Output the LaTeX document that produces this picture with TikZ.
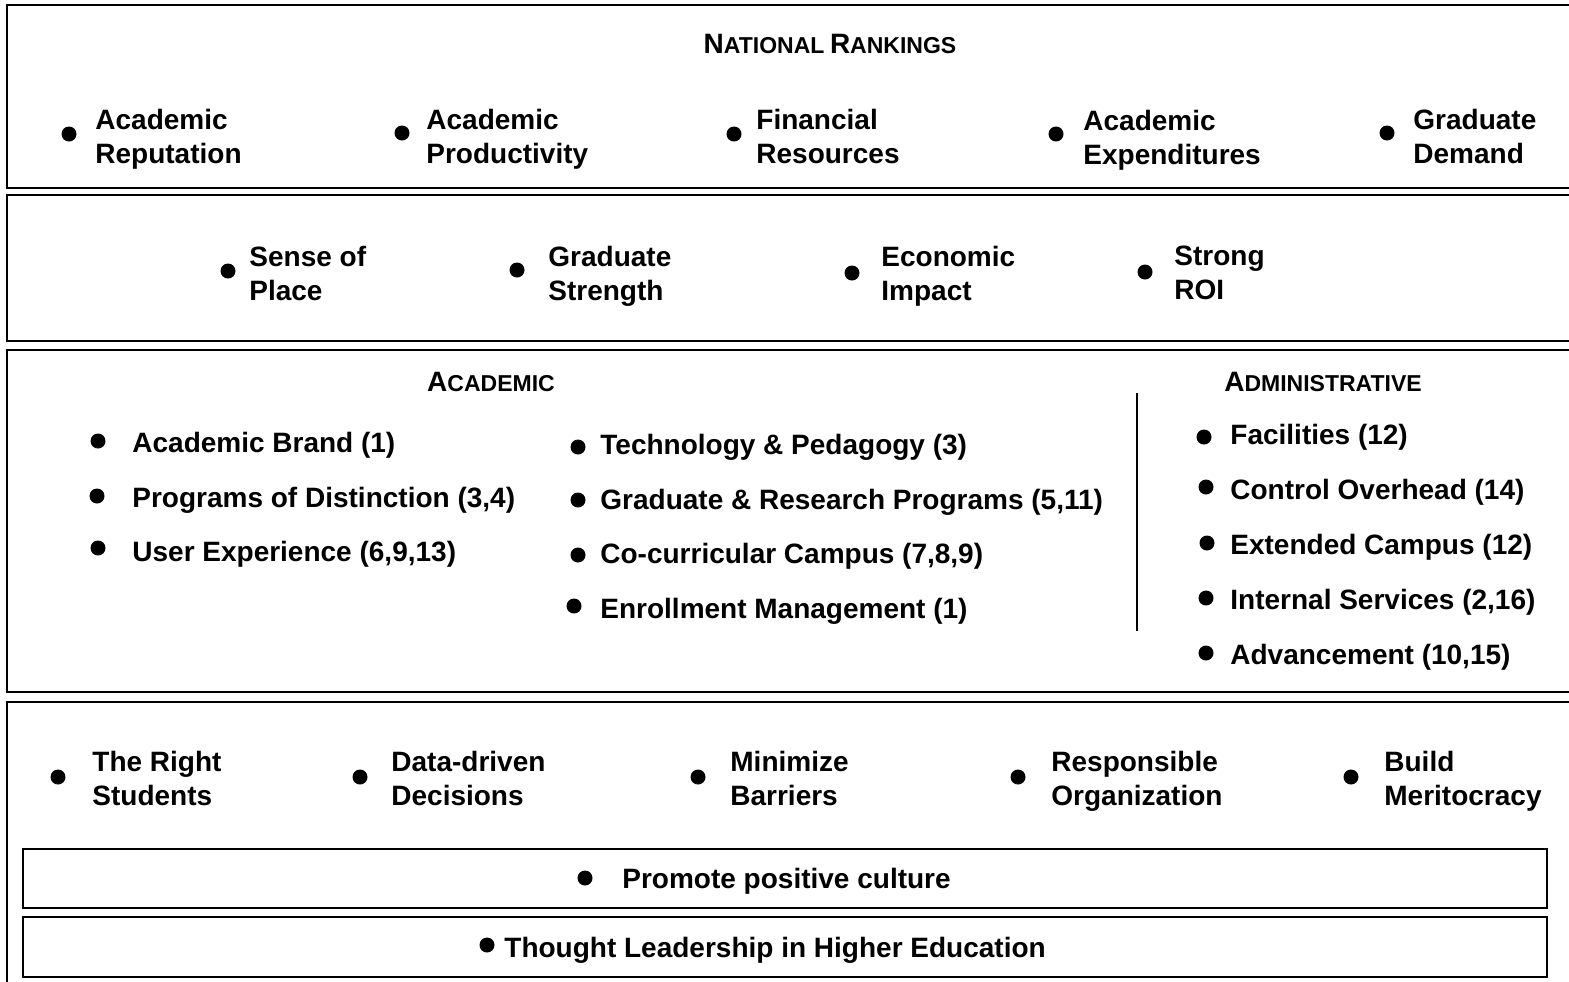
\documentclass[tikz,border=0pt]{standalone}
\usepackage{fontspec}
\setmainfont{Liberation Sans}
\usetikzlibrary{positioning}

% small caps made by hand (Liberation Sans has none)
\newcommand{\capsh}[2]{{\fontsize{14pt}{17pt}\selectfont #1}{\fontsize{11.5pt}{13pt}\selectfont #2}}

\begin{document}
\begin{tikzpicture}[
  x=0.5pt, y=-0.5pt,
  panel/.style={draw,line width=1pt},
  dot/.style={circle,fill,inner sep=0pt,minimum size=7.5pt},
  lbl/.style={anchor=west,align=left,inner sep=0pt,text depth=3pt,yshift=-1.5pt,
    font=\fontsize{14pt}{17pt}\selectfont\bfseries},
  head/.style={inner sep=0pt,font=\bfseries}
]
  \useasboundingbox (0,0) rectangle (1569,981);

  % Panels
  \draw[panel] (7,5) rectangle (1590,188);
  \draw[panel] (7,195) rectangle (1590,341);
  \draw[panel] (7,350) rectangle (1590,692);
  \draw[panel] (7,702) rectangle (1590,1000);
  \draw[panel] (23,849) rectangle (1547,908);
  \draw[panel] (23,917) rectangle (1547,977);

  % National rankings
  \node [head] (nr) at (830,44) {\capsh{N}{ATIONAL} \capsh{R}{ANKINGS}};
  \node [lbl] (ar) at (95,136) {Academic\\Reputation};
  \node [dot] (ar-d) at (69,134) {};
  \node [lbl] (ap) at (426,136) {Academic\\Productivity};
  \node [dot] (ap-d) at (402,133) {};
  \node [lbl] (fr) at (756,136) {Financial\\Resources};
  \node [dot] (fr-d) at (734,134) {};
  \node [lbl] (ae) at (1083,137) {Academic\\Expenditures};
  \node [dot] (ae-d) at (1056,134) {};
  \node [lbl] (gd) at (1413,136) {Graduate\\Demand};
  \node [dot] (gd-d) at (1387,133) {};

  % Outcomes
  \node [lbl] (sp) at (249,273) {Sense of\\Place};
  \node [dot] (sp-d) at (228,271) {};
  \node [lbl] (gs) at (548,273) {Graduate\\Strength};
  \node [dot] (gs-d) at (517,270) {};
  \node [lbl] (ei) at (881,273) {Economic\\Impact};
  \node [dot] (ei-d) at (852,273) {};
  \node [lbl] (roi) at (1174,273) {Strong\\ROI};
  \node [dot] (roi-d) at (1145,272) {};

  % Academic
  \node [head] (acad) at (491,382) {\capsh{A}{CADEMIC}};
  \node [lbl] (ab) at (132,442) {Academic Brand (1)};
  \node [dot] (ab-d) at (98,441) {};
  \node [lbl] (pd) at (132,497) {Programs of Distinction (3,4)};
  \node [dot] (pd-d) at (97,496) {};
  \node [lbl] (ux) at (132,551) {User Experience (6,9,13)};
  \node [dot] (ux-d) at (98,548) {};
  \node [lbl] (tp) at (600,444) {Technology \& Pedagogy (3)};
  \node [dot] (tp-d) at (578,447) {};
  \node [lbl] (grp) at (600,499) {Graduate \& Research Programs (5,11)};
  \node [dot] (grp-d) at (578,500) {};
  \node [lbl] (cc) at (600,553) {Co-curricular Campus (7,8,9)};
  \node [dot] (cc-d) at (578,555) {};
  \node [lbl] (em) at (600,608) {Enrollment Management (1)};
  \node [dot] (em-d) at (574,606) {};

  % Administrative
  \coordinate (sep-t) at (1137,393);
  \coordinate (sep-b) at (1137,631);
  \draw[line width=0.8pt] (sep-t) -- (sep-b);
  \node [head] (adm) at (1323,382) {\capsh{A}{DMINISTRATIVE}};
  \node [lbl] (fac) at (1230,434) {Facilities (12)};
  \node [dot] (fac-d) at (1204,437) {};
  \node [lbl] (co) at (1230,489) {Control Overhead (14)};
  \node [dot] (co-d) at (1206,487) {};
  \node [lbl] (ec) at (1230,544) {Extended Campus (12)};
  \node [dot] (ec-d) at (1207,543) {};
  \node [lbl] (is) at (1230,599) {Internal Services (2,16)};
  \node [dot] (is-d) at (1206,598) {};
  \node [lbl] (adv) at (1230,654) {Advancement (10,15)};
  \node [dot] (adv-d) at (1206,653) {};

  % Principles
  \node [lbl] (rs) at (92,778) {The Right\\Students};
  \node [dot] (rs-d) at (58,777) {};
  \node [lbl] (dd) at (391,778) {Data-driven\\Decisions};
  \node [dot] (dd-d) at (360,777) {};
  \node [lbl] (mb) at (730,778) {Minimize\\Barriers};
  \node [dot] (mb-d) at (698,777) {};
  \node [lbl] (ro) at (1051,778) {Responsible\\Organization};
  \node [dot] (ro-d) at (1018,777) {};
  \node [lbl] (bm) at (1384,778) {Build\\Meritocracy};
  \node [dot] (bm-d) at (1351,777) {};

  \node [lbl] (ppc) at (622,878) {Promote positive culture};
  \node [dot] (ppc-d) at (585,878) {};
  \node [lbl] (tl) at (504,947) {Thought Leadership in Higher Education};
  \node [dot] (tl-d) at (487,945) {};
\end{tikzpicture}
\end{document}
